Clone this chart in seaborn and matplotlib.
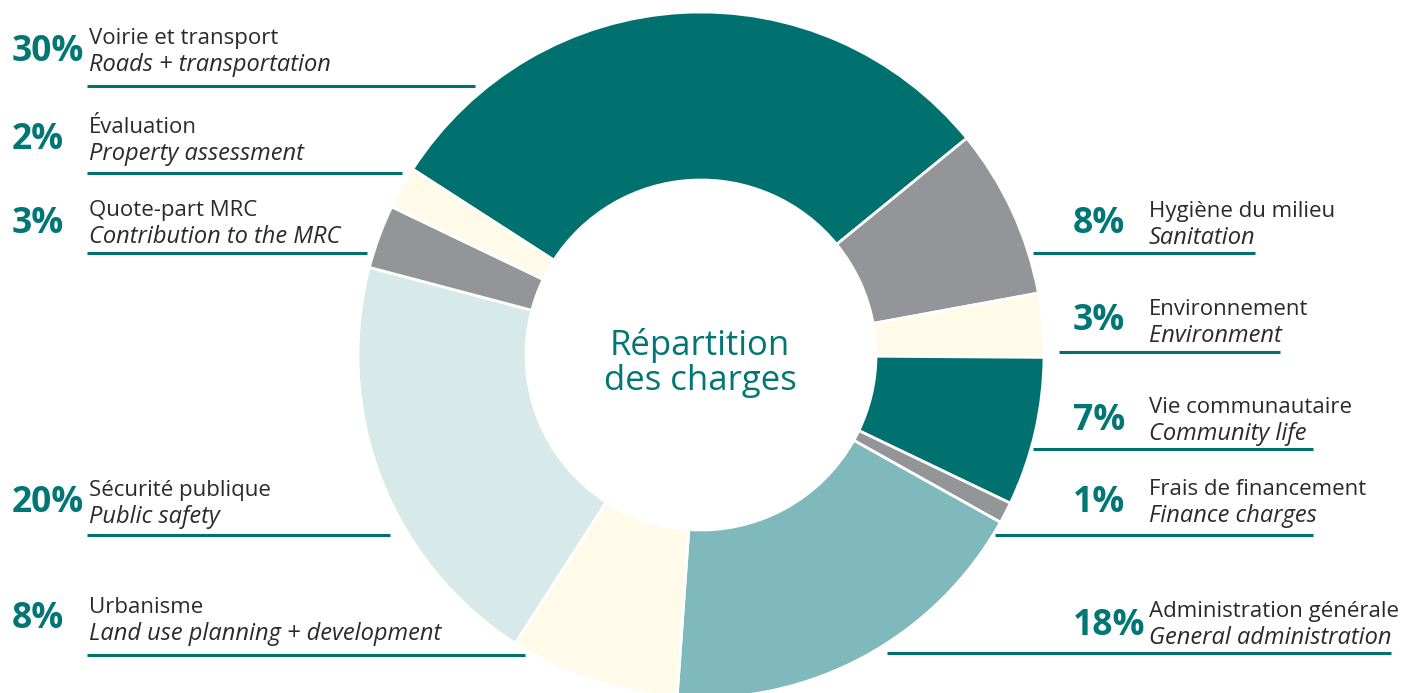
import matplotlib.pyplot as plt
import seaborn as sns

# budget split (percent), clockwise from the roads slice
categories_fr = ["Voirie et transport", "Hygiène du milieu", "Environnement",
                 "Vie communautaire", "Frais de financement", "Administration générale",
                 "Urbanisme", "Sécurité publique", "Quote-part MRC", "Évaluation"]
categories_en = ["Roads + transportation", "Sanitation", "Environment",
                 "Community life", "Finance charges", "General administration",
                 "Land use planning + development", "Public safety",
                 "Contribution to the MRC", "Property assessment"]
shares = [30, 8, 3, 7, 1, 18, 8, 20, 3, 2]

TEAL = "#00716f"
GREY = "#939598"
CREAM = "#fffbe8"
MID_TEAL = "#80b9bb"
PALE_TEAL = "#d7e9e9"
slice_colors = [TEAL, GREY, CREAM, TEAL, GREY, MID_TEAL, CREAM, PALE_TEAL, GREY, CREAM]
TXT_TEAL = "#007775"
TXT = "#2a2a2a"

# label layout in pixels: side, first baseline, underline y, underline x0, x1, pct baseline
layout = [
    ("L", 44, 86, 87, 475, 61),
    ("R", 217, 253, 1033, 1255, 233),
    ("R", 315, 352, 1059, 1280, 330),
    ("R", 413, 449, 1033, 1313, 430),
    ("R", 495, 535, 995, 1313, 512),
    ("R", 617, 653, 887, 1391, 635),
    ("L", 613, 655, 87, 525, 628),
    ("L", 496, 535, 87, 390, 512),
    ("L", 216, 253, 87, 367, 233),
    ("L", 133, 173, 87, 402, 149),
]

sns.set_style("white")
plt.rcParams["font.family"] = ["Open Sans", "DejaVu Sans"]

W, H = 1403, 693
fig = plt.figure(figsize=(W / 100, H / 100), dpi=100)
ax = fig.add_axes([0, 0, 1, 1])

# y axis runs downward, so counterclock=True turns clockwise on screen
ax.pie(shares, colors=slice_colors, startangle=212.8, counterclock=True,
       radius=343, center=(701, 355),
       wedgeprops=dict(width=168, edgecolor="white", linewidth=2))

ax.set_xlim(0, W)
ax.set_ylim(H, 0)
ax.set_aspect("equal")
ax.axis("off")

ax.text(700, 355, "Répartition", ha="center", va="baseline", fontsize=25, color=TXT_TEAL)
ax.text(700, 390, "des charges", ha="center", va="baseline", fontsize=25, color=TXT_TEAL)

for fr, en, pct, (side, b1, uy, x0, x1, pb) in zip(categories_fr, categories_en, shares, layout):
    px, tx = (12, 89) if side == "L" else (1073, 1149)
    ax.text(px, pb, f"{pct}%", ha="left", va="baseline", fontsize=25.5,
            fontweight="bold", color=TXT_TEAL)
    ax.text(tx, b1, fr, ha="left", va="baseline", fontsize=16, color=TXT)
    ax.text(tx, b1 + 27, en, ha="left", va="baseline", fontsize=17,
            style="italic", color=TXT)
    ax.plot([x0, x1], [uy, uy], color=TEAL, lw=2.2, solid_capstyle="butt")

fig.savefig("out.png", dpi=100)
